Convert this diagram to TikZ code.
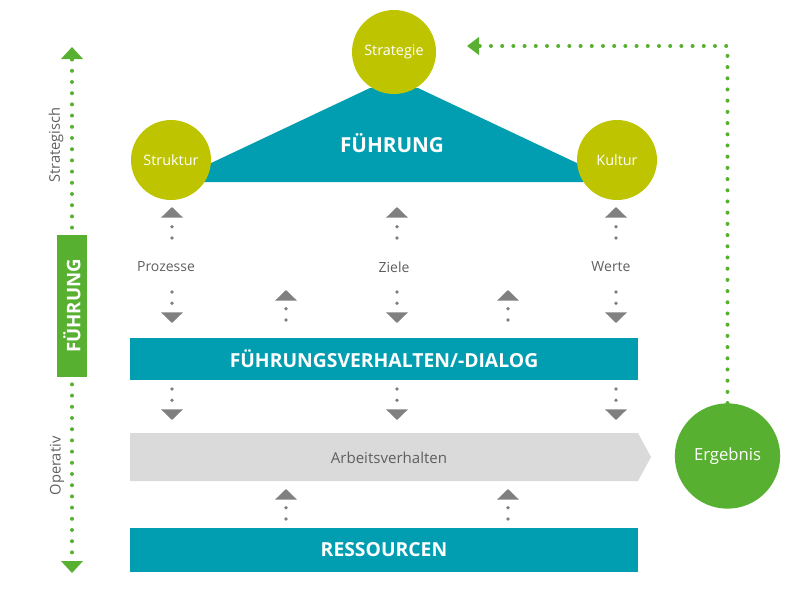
\documentclass[tikz,border=0pt]{standalone}
\usepackage{fontspec}
\setmainfont{Open Sans}
\usetikzlibrary{positioning}
\usetikzlibrary{arrows.meta}
\definecolor{teal}{RGB}{0,158,176}
\definecolor{olive}{RGB}{190,196,0}
\definecolor{leafgreen}{RGB}{88,176,49}
\definecolor{arrowgray}{RGB}{128,128,128}
\definecolor{bandgray}{RGB}{218,218,218}
\definecolor{textgray}{RGB}{95,95,95}
\tikzset{pillar/.style = {circle, fill=olive, text=white, inner sep=0pt,
                          font=\fontsize{10.8}{12}\selectfont},
         bar/.style = {fill=teal, text=white, inner sep=0pt,
                       minimum width=381pt, font=\bfseries\fontsize{14.5}{16}\selectfont},
         grayarrow/.style = {draw=arrowgray, line width=2.8pt, line cap=round,
                             dash pattern=on 0pt off 8.5pt,
                             -{Triangle[width=16pt,length=8pt,line cap=butt]}},
         greendots/.style = {draw=leafgreen, line width=3pt, line cap=round,
                              dash pattern=on 0pt off 8.4pt}}

\begin{document}
\begin{tikzpicture}[x=0.75pt, y=-0.75pt]
    \useasboundingbox (0,0) rectangle (800,600);
    % roof
    \fill [teal] (370,88) -- (418,88) -- (598,173) -- (598,182)
                 -- (190,182) -- (190,173) -- cycle;
    \node [text=white, font=\bfseries\fontsize{15.5}{17}\selectfont] (roof) at (392,143) {FÜHRUNG};
    \node [pillar, minimum size=63pt] (strategie) at (394,52) {Strategie};
    \node [pillar, minimum size=60pt] (struktur) at (171,160) {Struktur};
    \node [pillar, minimum size=60pt] (kultur) at (617,160) {Kultur};
    % labels
    \node [text=textgray, font=\fontsize{10.5}{12}\selectfont] (prozesse) at (166,267) {Prozesse};
    \node [text=textgray, font=\fontsize{10.5}{12}\selectfont] (ziele) at (394,267) {Ziele};
    \node [text=textgray, font=\fontsize{10.5}{12}\selectfont] (werte) at (611,267) {Werte};
    % bars
    \node [bar, minimum height=31.5pt] (dialog) at (384,359) {FÜHRUNGSVERHALTEN/-DIALOG};
    \fill [bandgray] (130,433) -- (638,433) -- (651,457) -- (638,481) -- (130,481) -- cycle;
    \node [text=textgray, font=\fontsize{11.3}{13}\selectfont] (arbeit) at (389,458) {Arbeitsverhalten};
    \node [bar, minimum height=33pt] (ressourcen) at (384,550) {RESSOURCEN};
    \node [circle, fill=leafgreen, text=white, minimum size=79pt, inner sep=0pt,
           font=\fontsize{12.5}{14}\selectfont] (ergebnis) at (727.5,456) {Ergebnis};
    % small arrows
    \foreach \x/\n in {172/a, 397/b, 616/c} {
        \coordinate (us\n) at (\x,238);
        \coordinate (ue\n) at (\x,207);
        \coordinate (ds\n) at (\x,292);
        \coordinate (de\n) at (\x,323);
        \coordinate (ls\n) at (\x,389);
        \coordinate (le\n) at (\x,420);
        \draw [grayarrow] (us\n) -- (ue\n);
        \draw [grayarrow] (ds\n) -- (de\n);
        \draw [grayarrow] (ls\n) -- (le\n);
    }
    \foreach \x/\n in {286/a, 508/b} {
        \coordinate (ms\n) at (\x,320);
        \coordinate (me\n) at (\x,290);
        \coordinate (rs\n) at (\x,519);
        \coordinate (re\n) at (\x,489);
        \draw [grayarrow] (ms\n) -- (me\n);
        \draw [grayarrow] (rs\n) -- (re\n);
    }
    % left scale
    \coordinate (ltop) at (72,47);
    \coordinate (lbot) at (72,573);
    \coordinate (lmid) at (72,306);
    \draw [greendots, -{Triangle[width=16pt,length=9pt,line cap=butt]}] (lmid) -- (ltop);
    \draw [greendots, -{Triangle[width=16pt,length=9pt,line cap=butt]}] (lmid) -- (lbot);
    \node [fill=leafgreen, text=white, rotate=90, minimum width=107pt, minimum height=22.5pt,
           inner sep=0pt, font=\bfseries\fontsize{14}{16}\selectfont] (scale) at (72,306) {FÜHRUNG};
    \node [text=textgray, rotate=90, font=\fontsize{11}{13}\selectfont] (strat) at (56,145) {Strategisch};
    \node [text=textgray, rotate=90, font=\fontsize{11}{13}\selectfont] (oper) at (57,466) {Operativ};
    % feedback
    \coordinate (fbtip) at (467,46);
    \draw [greendots, -{Triangle[width=13pt,length=9pt,line cap=butt]}] (ergebnis.north) |- (fbtip);
\end{tikzpicture}
\end{document}
